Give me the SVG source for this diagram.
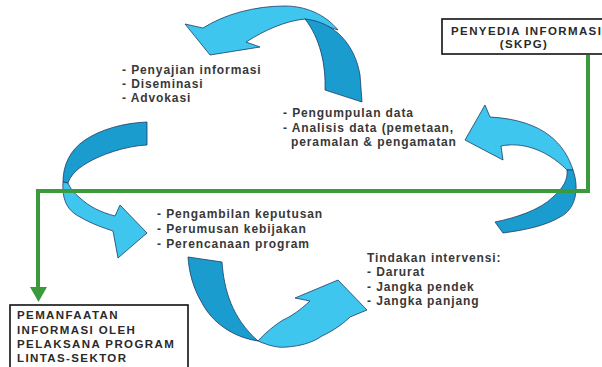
<svg xmlns="http://www.w3.org/2000/svg" width="602" height="367" viewBox="0 0 602 367">
<style>
.lt{fill:#3ec6ef;stroke:#1d3c66;stroke-width:0.8;stroke-linejoin:round}
.dk{fill:#1b9ccf;stroke:#1d3c66;stroke-width:0.8;stroke-linejoin:round}
.t{font-family:"Liberation Sans",Arial,sans-serif;font-weight:bold;font-size:12px;fill:#383838;letter-spacing:0.9px}
.b{font-family:"Liberation Sans",Arial,sans-serif;font-weight:bold;font-size:11.5px;fill:#2a2a2a;letter-spacing:1.4px}
.box{fill:#fff;stroke:#111;stroke-width:1.6}
.g{fill:none;stroke:#3a9a3c;stroke-width:4}
</style>
<rect width="602" height="367" fill="#fff"/>
<g id="arrow-top">
<path class="lt" d="M185,24 L210,55 L260,47 L246,42 C265,30 285,21 305,19 L338,30 C325,14 305,6 285,6 C255,6 225,14 203,28 Z"/>
<path class="dk" d="M305,19 C335,22 355,45 360,75 L362,102 L325,90 C326,65 320,38 305,19 Z"/>
</g>
<g id="arrow-right">
<path class="lt" d="M485,105 L465,140 L503,160 L501,146 C520,142 545,148 567,170 L573,170 C565,145 545,120 490,117 Z"/>
<path class="dk" d="M567,170 L573,170 C580,190 575,210 560,217 C545,226 525,230 503,233 L495,222 C515,218 540,210 553,197 C563,188 568,180 567,170 Z"/>
</g>
<g id="arrow-left">
<path class="dk" d="M147,122 L147,145 C125,146 100,155 87,163 C75,170 70,177 68,183 L63,182 C63,165 70,150 85,140 C100,130 122,123 147,122 Z"/>
<path class="lt" d="M63,182 C62,198 66,210 80,217 C92,224 104,228 113,231 L118,258 L147,233 L120,205 L115,216 C100,212 90,207 80,198 C74,193 70,188 68,183 Z"/>
</g>
<g id="arrow-bottom">
<path class="dk" d="M188,257 L222,262 C224,290 232,318 258,341 C232,337 212,322 202,303 C193,288 189,272 188,257 Z"/>
<path class="lt" d="M258,341 C270,346 278,348 287,347 C300,346 312,343 322,336 C335,330 345,322 350,317 L367,310 L338,280 L295,298 L310,301 C300,310 292,316 283,320 C275,325 265,333 258,341 Z"/>
</g>
<g id="connectors">
<path class="g" d="M588,55 V191 H38 V288"/>
<polygon points="30,287 47,287 38.5,302" fill="#3a9a3c"/>
</g>
<g id="node-penyedia">
<rect class="box" x="442" y="19" width="175" height="35"/>
<text class="b" x="451" y="35">PENYEDIA INFORMASI</text>
<text class="b" x="524" y="48" text-anchor="middle">(SKPG)</text>
</g>
<g id="node-pemanfaatan">
<rect class="box" x="10" y="305" width="178" height="75"/>
<text class="b" x="17" y="319">PEMANFAATAN</text>
<text class="b" x="17" y="334">INFORMASI OLEH</text>
<text class="b" x="17" y="348">PELAKSANA PROGRAM</text>
<text class="b" x="17" y="362">LINTAS-SEKTOR</text>
</g>
<g id="text-penyajian">
<text class="t" x="122" y="74">- Penyajian informasi</text>
<text class="t" x="122" y="88">- Diseminasi</text>
<text class="t" x="122" y="102">- Advokasi</text>
</g>
<g id="text-pengumpulan">
<text class="t" x="283" y="117">- Pengumpulan data</text>
<text class="t" x="283" y="132">- Analisis data (pemetaan,</text>
<text class="t" x="291" y="146">peramalan &amp; pengamatan</text>
</g>
<g id="text-pengambilan">
<text class="t" x="157" y="218">- Pengambilan keputusan</text>
<text class="t" x="157" y="233">- Perumusan kebijakan</text>
<text class="t" x="157" y="248">- Perencanaan program</text>
</g>
<g id="text-tindakan">
<text class="t" x="367" y="262">Tindakan intervensi:</text>
<text class="t" x="367" y="276">- Darurat</text>
<text class="t" x="367" y="291">- Jangka pendek</text>
<text class="t" x="367" y="305">- Jangka panjang</text>
</g>
</svg>
